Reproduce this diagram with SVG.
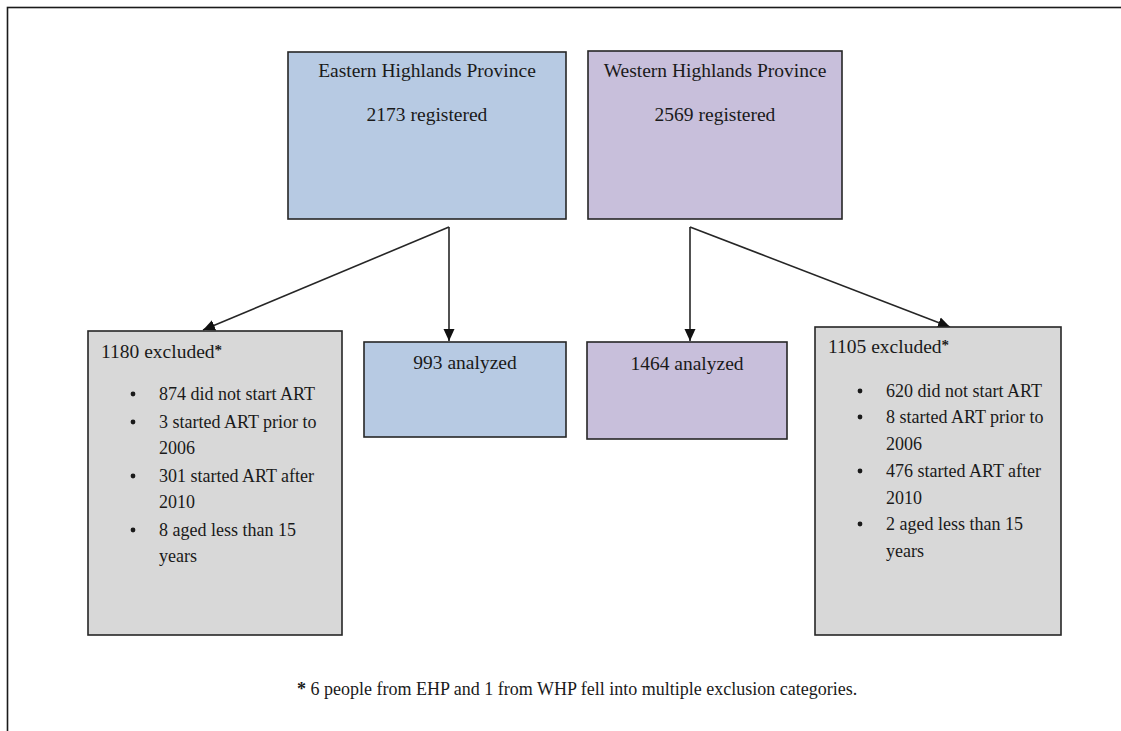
<svg xmlns="http://www.w3.org/2000/svg" width="1121" height="731" viewBox="0 0 1121 731">
<style>
.box{stroke:#262626;stroke-width:1.6}
.ehp{fill:#b7cae3}
.whp{fill:#c8bfdb}
.exc{fill:#d8d8d8}
text{font-family:"Liberation Serif","Times New Roman",serif;fill:#1a1a1a}
.t{font-size:19.5px}
.b{font-size:18px}
.fn{font-size:18px}
.ast{font-weight:bold;font-size:15px}
.dot{fill:#1a1a1a}
.conn{stroke:#262626;stroke-width:1.6;fill:none;marker-end:url(#arr)}
</style>
<defs>
<marker id="arr" viewBox="0 0 12 12" refX="12" refY="6" markerWidth="12" markerHeight="12" markerUnits="userSpaceOnUse" orient="auto">
<path d="M0,0.5 L12,6 L0,11.5 z" fill="#111"/>
</marker>
</defs>
<rect width="1121" height="731" fill="#fff"/>
<rect x="7.5" y="7.5" width="1130" height="740" fill="none" stroke="#1a1a1a" stroke-width="1.6"/>

<g id="connectors">
<path class="conn" d="M449,227 L449,341"/>
<path class="conn" d="M449,227 L203,330"/>
<path class="conn" d="M690,227 L690,341"/>
<path class="conn" d="M690,227 L950,327"/>
</g>

<g id="ehp">
<rect class="box ehp" x="288" y="52" width="278" height="167"/>
<text class="t" x="427" y="77" text-anchor="middle">Eastern Highlands Province</text>
<text class="t" x="427" y="121" text-anchor="middle">2173 registered</text>
</g>

<g id="whp">
<rect class="box whp" x="588" y="51" width="254" height="168"/>
<text class="t" x="715" y="77" text-anchor="middle">Western Highlands Province</text>
<text class="t" x="715" y="121" text-anchor="middle">2569 registered</text>
</g>

<g id="ehp-analyzed">
<rect class="box ehp" x="364" y="342" width="202" height="95"/>
<text class="t" x="465" y="369" text-anchor="middle">993 analyzed</text>
</g>

<g id="whp-analyzed">
<rect class="box whp" x="587" y="342" width="200" height="97"/>
<text class="t" x="687" y="370" text-anchor="middle">1464 analyzed</text>
</g>

<g id="ehp-excluded">
<rect class="box exc" x="88" y="331" width="254" height="304"/>
<text class="t" x="101" y="358">1180 excluded<tspan class="ast" dy="-3">*</tspan></text>
<circle class="dot" cx="133" cy="394" r="2.4"/>
<text class="b" x="159" y="400">874 did not start ART</text>
<circle class="dot" cx="133" cy="422" r="2.4"/>
<text class="b" x="159" y="428">3 started ART prior to</text>
<text class="b" x="159" y="454">2006</text>
<circle class="dot" cx="133" cy="476" r="2.4"/>
<text class="b" x="159" y="482">301 started ART after</text>
<text class="b" x="159" y="508">2010</text>
<circle class="dot" cx="133" cy="530" r="2.4"/>
<text class="b" x="159" y="536">8 aged less than 15</text>
<text class="b" x="159" y="562">years</text>
</g>

<g id="whp-excluded">
<rect class="box exc" x="815" y="327" width="246" height="308"/>
<text class="t" x="828" y="353">1105 excluded<tspan class="ast" dy="-3">*</tspan></text>
<circle class="dot" cx="860" cy="391" r="2.4"/>
<text class="b" x="886" y="397">620 did not start ART</text>
<circle class="dot" cx="860" cy="417" r="2.4"/>
<text class="b" x="886" y="423">8 started ART prior to</text>
<text class="b" x="886" y="450">2006</text>
<circle class="dot" cx="860" cy="471" r="2.4"/>
<text class="b" x="886" y="477">476 started ART after</text>
<text class="b" x="886" y="504">2010</text>
<circle class="dot" cx="860" cy="524" r="2.4"/>
<text class="b" x="886" y="530">2 aged less than 15</text>
<text class="b" x="886" y="557">years</text>
</g>

<g id="footnote">
<text class="fn" x="297" y="695"><tspan font-weight="bold">*</tspan> 6 people from EHP and 1 from WHP fell into multiple exclusion categories.</text>
</g>
</svg>
